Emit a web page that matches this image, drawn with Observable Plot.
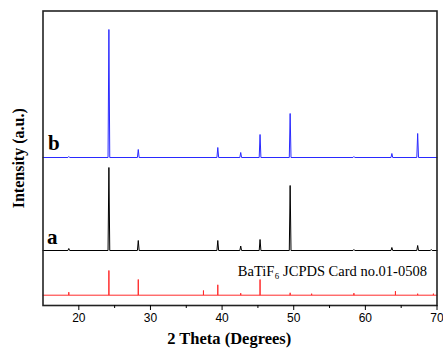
<!DOCTYPE html>
<html>
<head>
<meta charset="utf-8">
<script src="https://cdn.jsdelivr.net/npm/d3@7"></script>
<script src="https://cdn.jsdelivr.net/npm/@observablehq/plot@0.6"></script>
<style>
  html, body { margin: 0; padding: 0; background: #fff; }
  #chart { width: 443px; height: 348px; }
</style>
</head>
<body>
<div id="chart"></div>
<script>
// 2θ tick values
const majorTicks = [20, 30, 40, 50, 60, 70];
const minorTicks = [25, 35, 45, 55, 65];

// Sample b (blue) – peak positions (2θ) and intensities (a.u.)
const bPositions = [18.6, 24.2, 28.3, 39.4, 42.6, 45.3, 49.5, 58.4, 63.7, 67.3];
const bHeights   = [1, 128, 8, 10, 5, 23, 44, 1, 4, 24];

// Sample a (black)
const aPositions = [18.6, 24.2, 28.3, 39.4, 42.6, 45.3, 49.5, 58.4, 63.7, 67.3, 69.2];
const aHeights   = [2, 83, 10, 10, 4.5, 11, 65, 1, 3, 5, 1];

// BaTiF6 JCPDS card 01-0508 (red sticks)
const cardPositions = [18.6, 24.2, 28.3, 37.4, 39.4, 42.6, 45.3, 49.5, 52.5, 58.4, 64.2, 67.3, 69.5];
const cardHeights   = [3, 24.7, 15.7, 4.7, 10.4, 2, 15.7, 2.4, 1.5, 2, 4, 1.5, 1.5];

// vertical stacking offsets (a.u.)
const offsets = {card: 10.3, a: 55, b: 148};

function pattern(positions, heights, offset, halfWidth) {
  const pts = [{x: 15, y: offset}];
  positions.forEach((p, i) => {
    pts.push({x: p - halfWidth, y: offset});
    pts.push({x: p, y: offset + heights[i]});
    pts.push({x: p + halfWidth, y: offset});
  });
  pts.push({x: 70, y: offset});
  return pts;
}

const bLine = pattern(bPositions, bHeights, offsets.b, 0.12);
const aLine = pattern(aPositions, aHeights, offsets.a, 0.12);
const cardLine = pattern(cardPositions, cardHeights, offsets.card, 0);

const serif = "'Liberation Serif', 'Times New Roman', serif";

const chart = Plot.plot({
  width: 443,
  height: 348,
  marginLeft: 42.5,
  marginRight: 6.5,
  marginTop: 10.5,
  marginBottom: 43,
  style: {fontFamily: "'Liberation Sans', Arial, sans-serif", fontSize: "12px", background: "#fff", overflow: "visible"},
  x: {domain: [15, 70]},
  y: {domain: [0, 294.5], axis: null},
  marks: [
    Plot.line(cardLine, {x: "x", y: "y", stroke: "#ff2a2a", strokeWidth: 1}),
    Plot.line(aLine, {x: "x", y: "y", stroke: "#000", strokeWidth: 1}),
    Plot.line(bLine, {x: "x", y: "y", stroke: "#2a2aff", strokeWidth: 1}),
    Plot.frame({stroke: "#222", strokeWidth: 1.6}),
    Plot.axisX({ticks: majorTicks, tickSize: 5, tickPadding: 3, label: null, fontSize: 12, tickFormat: d => String(d)}),
    Plot.axisX({ticks: minorTicks, tickSize: 3, tickFormat: () => "", label: null}),
    Plot.text(["b"], {x: 16.5, y: offsets.b + 8, text: d => d, fontFamily: serif, fontWeight: "bold", fontSize: 21, textAnchor: "middle", lineAnchor: "bottom"}),
    Plot.text(["a"], {x: 16.3, y: offsets.a + 6.7, text: d => d, fontFamily: serif, fontWeight: "bold", fontSize: 21, textAnchor: "middle", lineAnchor: "bottom"}),
    Plot.text(["BaTiF\u2086 JCPDS Card no.01-0508"], {x: 42.2, y: offsets.card + 19, text: d => d, fontFamily: serif, fontSize: 14.5, textAnchor: "start", lineAnchor: "bottom"}),
    Plot.text(["Intensity (a.u.)"], {frameAnchor: "left", dx: -24, rotate: -90, text: d => d, fontFamily: serif, fontWeight: "bold", fontSize: 16, textAnchor: "middle"}),
    Plot.text(["2 Theta (Degrees)"], {x: 41, frameAnchor: "bottom", dy: 33, text: d => d, fontFamily: serif, fontWeight: "bold", fontSize: 16.5, textAnchor: "middle", lineAnchor: "middle"})
  ]
});
document.getElementById("chart").appendChild(chart);
</script>
</body>
</html>
